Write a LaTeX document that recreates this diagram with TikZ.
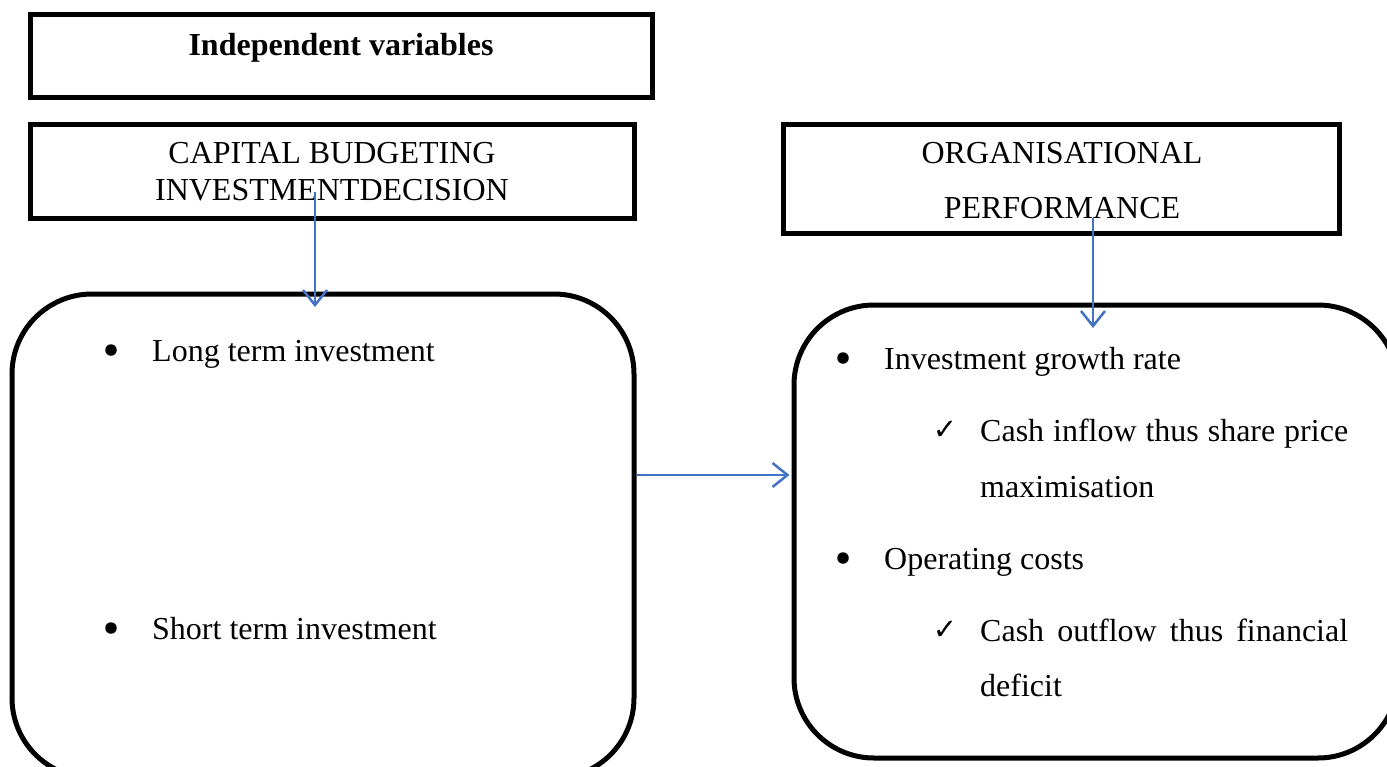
\documentclass[tikz,border=0pt]{standalone}
\usepackage{fontspec}
\setmainfont{Liberation Serif}
\newfontfamily\symfont{DejaVu Sans}
\usetikzlibrary{arrows.meta}
\definecolor{arrblue}{RGB}{68,114,196}
\begin{document}
\begin{tikzpicture}[x=1pt,y=-1pt,
  box/.style={draw=black,line width=5pt,rectangle,inner sep=0pt},
  rbox/.style={draw=black,line width=5pt,rectangle,rounded corners=80pt,inner sep=0pt},
  txt/.style={inner sep=0pt,font=\fontsize{32}{38}\selectfont},
  btxt/.style={txt,font=\fontsize{32}{38}\selectfont\bfseries},
  dot/.style={circle,fill=black,inner sep=0pt,minimum size=11.5pt},
  chk/.style={inner sep=0pt,anchor=base,font=\fontsize{29}{34}\selectfont\symfont\bfseries},
  arr/.style={draw=arrblue,line width=2.2pt,-{Straight Barb[length=15pt,width=24pt,line width=2.5pt]}}
]
\useasboundingbox (0,0) rectangle (1387,766);
\clip (0,0) rectangle (1387,766);
% boxes
\node[box,minimum width=622pt,minimum height=83pt] (indep) at (341,55.5) {};
\node[box,minimum width=604pt,minimum height=94pt] (cbid) at (332,171) {};
\node[box,minimum width=556pt,minimum height=109pt] (org) at (1061,178.5) {};
\node[rbox,minimum width=622pt,minimum height=484pt] (lbox) at (323,536) {};
\node[rbox,minimum width=604pt,minimum height=453pt] (rbox) at (1096,531.5) {};
% box texts
\node[btxt,anchor=base] (t1) at (341,55) {Independent variables};
\node[txt,anchor=base] (t2) at (332,163) {CAPITAL BUDGETING};
\node[txt,anchor=base] (t3) at (332,200) {INVESTMENTDECISION};
\node[txt,anchor=base] (t4) at (1062,163) {ORGANISATIONAL};
\node[txt,anchor=base] (t5) at (1062,218) {PERFORMANCE};
% left list
\node[dot] (b1) at (111,350) {};
\node[txt,anchor=base west] (l1) at (152,361) {Long term investment};
\node[dot] (b2) at (111,628) {};
\node[txt,anchor=base west] (l2) at (152,639) {Short term investment};
% right list
\node[dot] (b3) at (843,358) {};
\node[txt,anchor=base west] (r1) at (884,369) {Investment growth rate};
\node[chk] (c1) at (945,439) {✓};
\node[txt,anchor=base west] (r2) at (980,441) {\makebox[368pt][s]{Cash inflow thus share price}};
\node[txt,anchor=base west] (r3) at (980,497) {maximisation};
\node[dot] (b4) at (843,558) {};
\node[txt,anchor=base west] (r4) at (884,569) {Operating costs};
\node[chk] (c2) at (945,639) {✓};
\node[txt,anchor=base west] (r5) at (980,641) {\makebox[368pt][s]{Cash outflow thus financial}};
\node[txt,anchor=base west] (r6) at (980,696) {deficit};
% connectors
\coordinate (a1s) at (315,192);
\coordinate (a1e) at (315,307);
\coordinate (a2s) at (1093,218);
\coordinate (a2e) at (1093,328);
\coordinate (mid) at (700,475);
\draw[arr] (a1s) -- (a1e);
\draw[arr] (a2s) -- (a2e);
\draw[arr] (lbox.east |- mid) -- ([xshift=-2pt]rbox.west |- mid);
\end{tikzpicture}
\end{document}
